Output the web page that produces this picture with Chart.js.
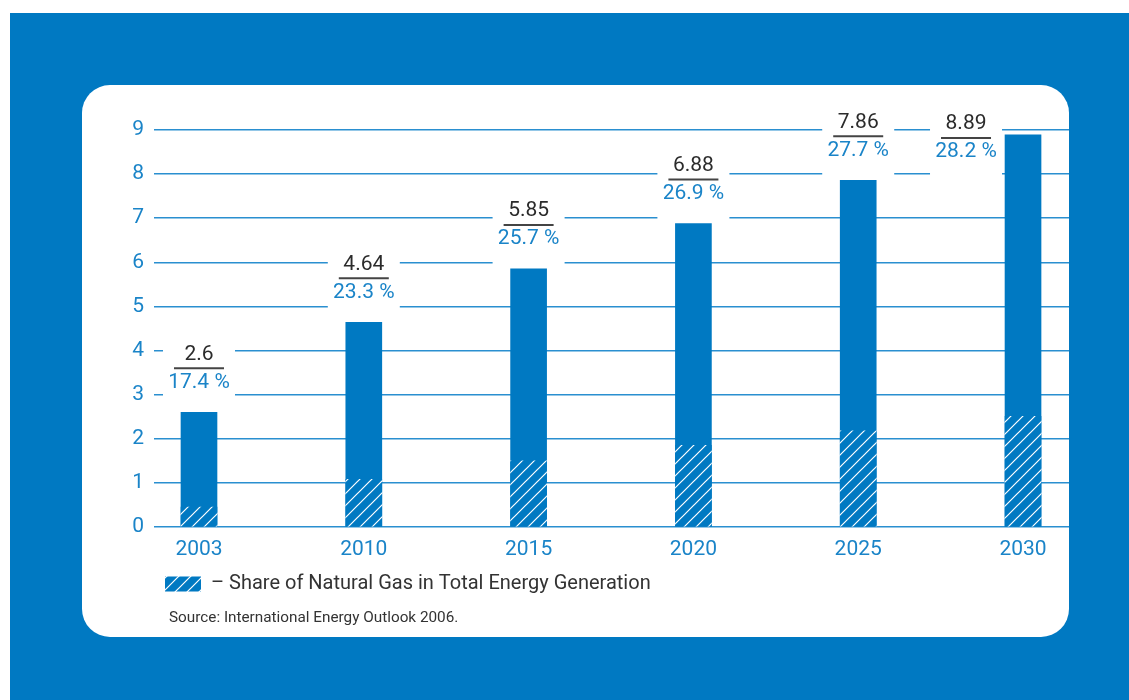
<!DOCTYPE html>
<html>
<head>
<meta charset="utf-8">
<script src="https://cdn.jsdelivr.net/npm/chart.js@4"></script>
<style>
  html, body { margin: 0; padding: 0; background: #fff; }
  #bg { position: absolute; left: 10px; top: 13px; width: 1119px; height: 687px; background: #0079c2; }
  #panel { position: absolute; left: 82px; top: 85px; width: 987px; height: 552px; background: #fff; border-radius: 28px; }
  #chart { position: absolute; left: 0; top: 0; }
  #source { position: absolute; left: 87px; top: 523px; font: 15.3px Roboto, 'DejaVu Sans Condensed', sans-serif; color: #333; }
</style>
</head>
<body>
<div id="bg"></div>
<div id="panel">
  <canvas id="chart" width="987" height="552"></canvas>
  <div id="source">Source: International Energy Outlook 2006.</div>
</div>
<script>
// données
const years = ["2003", "2010", "2015", "2020", "2025", "2030"];
const totals = [2.6, 4.64, 5.85, 6.88, 7.86, 8.89];
const gasShare = [0.45, 1.08, 1.5, 1.85, 2.18, 2.51];   // partie hachurée
const shareLabels = ["17.4 %", "23.3 %", "25.7 %", "26.9 %", "27.7 %", "28.2 %"];
const yTicks = [0, 1, 2, 3, 4, 5, 6, 7, 8, 9];

const BLUE = "#0079c2";
const FONT = "Roboto, 'DejaVu Sans Condensed', sans-serif";

// motif hachuré (lignes blanches en diagonale)
function hatch() {
    const c = document.createElement("canvas");
    c.width = 12; c.height = 12;
    const g = c.getContext("2d");
    g.fillStyle = BLUE;
    g.fillRect(0, 0, 12, 12);
    g.strokeStyle = "#fff";
    g.lineWidth = 1.2;
    g.beginPath();
    g.moveTo(-2, 14); g.lineTo(14, -2);
    g.moveTo(-2, 2); g.lineTo(2, -2);
    g.moveTo(10, 14); g.lineTo(14, 10);
    g.stroke();
    return g.createPattern(c, "repeat");
}
const pattern = hatch();

// étiquettes au-dessus des barres : valeur / pourcentage
const barLabels = {
    id: "barLabels",
    beforeDatasetsDraw(chart) {
        const {ctx, chartArea} = chart;
        const meta = chart.getDatasetMeta(1);
        meta.data.forEach((bar, i) => {
            let cx = bar.x;
            let top = bar.y;
            if (top - 72 < chartArea.top - 30) {
                // pas de place au-dessus : on met l'étiquette à gauche
                top = chartArea.top + 52;
                cx = bar.x - 57;
            }
            ctx.save();
            ctx.fillStyle = "#fff";
            ctx.fillRect(cx - 36, top - 74, 72, 70);
            ctx.textAlign = "center";
            ctx.textBaseline = "middle";
            ctx.font = "21px " + FONT;
            ctx.fillStyle = "#2b2b2b";
            ctx.fillText(String(totals[i]), cx, top - 58);
            ctx.fillStyle = "#1a84c8";
            ctx.fillText(shareLabels[i], cx, top - 30);
            ctx.strokeStyle = "#444";
            ctx.lineWidth = 2;
            ctx.beginPath();
            ctx.moveTo(cx - 25, top - 44);
            ctx.lineTo(cx + 25, top - 44);
            ctx.stroke();
            ctx.restore();
        });
    }
};

new Chart(document.getElementById("chart"), {
    type: "bar",
    data: {
        datasets: [
            {
                label: "– Share of Natural Gas in Total Energy Generation",
                data: gasShare.map((v, i) => ({x: i, y: v})),
                backgroundColor: pattern,
                borderWidth: 0,
                barThickness: 36,
                grouped: false,
                order: 0
            },
            {
                label: "total",
                data: totals.map((v, i) => ({x: i, y: v})),
                backgroundColor: BLUE,
                borderWidth: 0,
                barThickness: 36,
                grouped: false,
                order: 1
            }
        ]
    },
    options: {
        responsive: false,
        animation: false,
        events: [],
        layout: { padding: { top: 45, bottom: 33, left: 0, right: 0 } },
        scales: {
            x: {
                type: "linear",
                offset: false,
                min: -0.273,
                max: 5.279,
                afterBuildTicks: s => { s.ticks = years.map((_, i) => ({value: i})); },
                afterFit: s => { s.height = 36; },
                grid: { display: false, drawTicks: false },
                border: { display: false },
                ticks: {
                    padding: 10,
                    color: "#1a84c8",
                    font: { family: FONT, size: 21 },
                    callback: v => years[v]
                }
            },
            y: {
                min: 0,
                max: 9,
                afterBuildTicks: s => { s.ticks = yTicks.map(v => ({value: v})); },
                afterFit: s => { s.width = 72; },
                grid: { color: "#2a8fd0", lineWidth: 1.5, drawTicks: false },
                border: { display: false },
                ticks: {
                    padding: 10,
                    color: "#1a84c8",
                    font: { family: FONT, size: 21 }
                }
            }
        },
        plugins: {
            legend: {
                position: "bottom",
                align: "start",
                fullSize: false,
                labels: {
                    padding: 11,
                    boxWidth: 36,
                    boxHeight: 15,
                    color: "#333",
                    font: { family: FONT, size: 20 },
                    filter: item => item.datasetIndex === 0
                }
            },
            tooltip: { enabled: false }
        }
    },
    plugins: [barLabels]
});
</script>
</body>
</html>
